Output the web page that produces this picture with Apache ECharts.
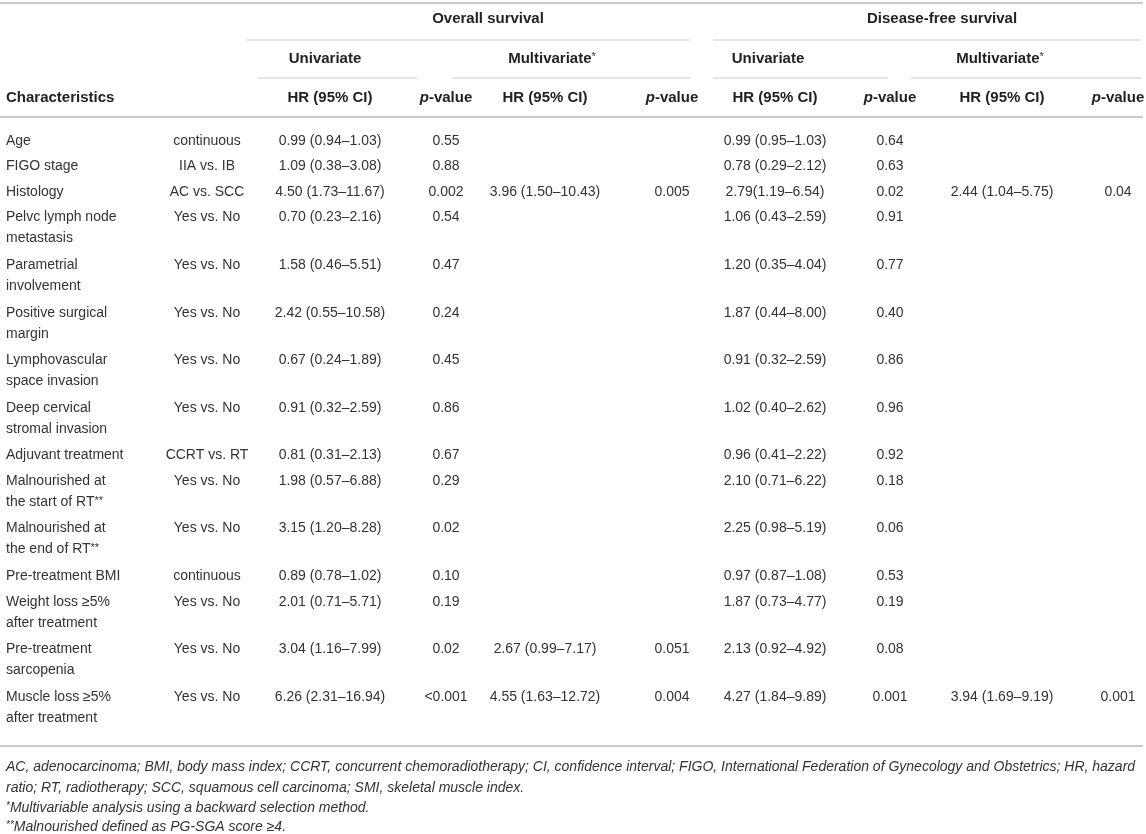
<!DOCTYPE html>
<html>
<head>
<meta charset="utf-8">
<script src="https://cdn.jsdelivr.net/npm/echarts@6/dist/echarts.min.js"></script>
<style>
  html, body { margin: 0; padding: 0; background: #fff; }
  #chart { width: 1146px; height: 834px; }
</style>
</head>
<body>
<div id="chart"></div>
<script>
// table content
const characteristics = [
  ['Age'], ['FIGO stage'], ['Histology'], ['Pelvc lymph node', 'metastasis'],
  ['Parametrial', 'involvement'], ['Positive surgical', 'margin'],
  ['Lymphovascular', 'space invasion'], ['Deep cervical', 'stromal invasion'],
  ['Adjuvant treatment'], ['Malnourished at', 'the start of RT{sup|**}'],
  ['Malnourished at', 'the end of RT{sup|**}'], ['Pre-treatment BMI'],
  ['Weight loss ≥5%', 'after treatment'], ['Pre-treatment', 'sarcopenia'],
  ['Muscle loss ≥5%', 'after treatment']
];
const comparisons = ['continuous', 'IIA vs. IB', 'AC vs. SCC', 'Yes vs. No', 'Yes vs. No',
  'Yes vs. No', 'Yes vs. No', 'Yes vs. No', 'CCRT vs. RT', 'Yes vs. No', 'Yes vs. No',
  'continuous', 'Yes vs. No', 'Yes vs. No', 'Yes vs. No'];
const osUniHR = ['0.99 (0.94–1.03)', '1.09 (0.38–3.08)', '4.50 (1.73–11.67)', '0.70 (0.23–2.16)',
  '1.58 (0.46–5.51)', '2.42 (0.55–10.58)', '0.67 (0.24–1.89)', '0.91 (0.32–2.59)',
  '0.81 (0.31–2.13)', '1.98 (0.57–6.88)', '3.15 (1.20–8.28)', '0.89 (0.78–1.02)',
  '2.01 (0.71–5.71)', '3.04 (1.16–7.99)', '6.26 (2.31–16.94)'];
const osUniP = ['0.55', '0.88', '0.002', '0.54', '0.47', '0.24', '0.45', '0.86', '0.67',
  '0.29', '0.02', '0.10', '0.19', '0.02', '<0.001'];
const osMultiHR = ['', '', '3.96 (1.50–10.43)', '', '', '', '', '', '', '', '', '', '',
  '2.67 (0.99–7.17)', '4.55 (1.63–12.72)'];
const osMultiP = ['', '', '0.005', '', '', '', '', '', '', '', '', '', '', '0.051', '0.004'];
const dfsUniHR = ['0.99 (0.95–1.03)', '0.78 (0.29–2.12)', '2.79(1.19–6.54)', '1.06 (0.43–2.59)',
  '1.20 (0.35–4.04)', '1.87 (0.44–8.00)', '0.91 (0.32–2.59)', '1.02 (0.40–2.62)',
  '0.96 (0.41–2.22)', '2.10 (0.71–6.22)', '2.25 (0.98–5.19)', '0.97 (0.87–1.08)',
  '1.87 (0.73–4.77)', '2.13 (0.92–4.92)', '4.27 (1.84–9.89)'];
const dfsUniP = ['0.64', '0.63', '0.02', '0.91', '0.77', '0.40', '0.86', '0.96', '0.92',
  '0.18', '0.06', '0.53', '0.19', '0.08', '0.001'];
const dfsMultiHR = ['', '', '2.44 (1.04–5.75)', '', '', '', '', '', '', '', '', '', '', '',
  '3.94 (1.69–9.19)'];
const dfsMultiP = ['', '', '0.04', '', '', '', '', '', '', '', '', '', '', '', '0.001'];
const footnotes = [
  'AC, adenocarcinoma; BMI, body mass index; CCRT, concurrent chemoradiotherapy; CI, confidence interval; FIGO, International Federation of Gynecology and Obstetrics; HR, hazard',
  'ratio; RT, radiotherapy; SCC, squamous cell carcinoma; SMI, skeletal muscle index.',
  '{fsup|*}Multivariable analysis using a backward selection method.',
  '{fsup|**}Malnourished defined as PG-SGA score ≥4.'
];

// layout
const FONT = '"Liberation Sans", Arial, Helvetica, sans-serif';
const INK = '#333';
const RULE = '#cbcbcb';
const col = { comp: 207, osUniHR: 330, osUniP: 446, osMultiHR: 545, osMultiP: 672,
  dfsUniHR: 775, dfsUniP: 890, dfsMultiHR: 1002, dfsMultiP: 1118 };
const firstRowY = 141, singlePitch = 25.5, doublePitch = 47.6, lineGap = 21;
const rules = [
  [0, 1143, 3, 2], [246, 690, 40, 1], [713, 1141, 40, 1],
  [258, 417, 78, 1], [452, 690, 78, 1], [713, 888, 78, 1], [911, 1141, 78, 1],
  [0, 1143, 117, 2], [0, 1143, 746, 2]
];

const RICH = {
  sup: { fontSize: 11, fontFamily: FONT, fill: INK, verticalAlign: 'top' },
  bsup: { fontSize: 11, fontFamily: FONT, fill: INK, verticalAlign: 'top' },
  ib: { fontSize: 15, fontFamily: FONT, fontWeight: 'bold', fontStyle: 'italic', fill: '#222' },
  fsup: { fontSize: 10, fontFamily: FONT, fontStyle: 'italic', fill: INK, verticalAlign: 'top' }
};

const cells = [];
function cell(x, y, text, align, extra) {
  cells.push(Object.assign({ x, y, text, align, size: 14, weight: 'normal', italic: 'normal', color: INK }, extra || {}));
}
const head = { size: 15, weight: 'bold', color: '#222' };

cell(488, 19, 'Overall survival', 'center', head);
cell(942, 19, 'Disease-free survival', 'center', head);
cell(325, 59, 'Univariate', 'center', head);
cell(552, 59, 'Multivariate{bsup|*}', 'center', head);
cell(768, 59, 'Univariate', 'center', head);
cell(1000, 59, 'Multivariate{bsup|*}', 'center', head);
cell(6, 98, 'Characteristics', 'left', head);
[col.osUniHR, col.osMultiHR, col.dfsUniHR, col.dfsMultiHR].forEach(x => cell(x, 98, 'HR (95% CI)', 'center', head));
[col.osUniP, col.osMultiP, col.dfsUniP, col.dfsMultiP].forEach(x => cell(x, 98, '{ib|p}-value', 'center', head));

let y = firstRowY;
characteristics.forEach((lines, i) => {
  lines.forEach((t, k) => cell(6, y + k * lineGap, t, 'left'));
  cell(col.comp, y, comparisons[i], 'center');
  cell(col.osUniHR, y, osUniHR[i], 'center');
  cell(col.osUniP, y, osUniP[i], 'center');
  cell(col.osMultiHR, y, osMultiHR[i], 'center');
  cell(col.osMultiP, y, osMultiP[i], 'center');
  cell(col.dfsUniHR, y, dfsUniHR[i], 'center');
  cell(col.dfsUniP, y, dfsUniP[i], 'center');
  cell(col.dfsMultiHR, y, dfsMultiHR[i], 'center');
  cell(col.dfsMultiP, y, dfsMultiP[i], 'center');
  y += lines.length > 1 ? doublePitch : singlePitch;
});

const footY = [767, 788, 808, 827];
footnotes.forEach((t, i) => cell(6, footY[i], t, 'left', { size: 14, italic: 'italic' }));

const chart = echarts.init(document.getElementById('chart'));
chart.setOption({
  animation: false,
  grid: { left: 0, right: 0, top: 0, bottom: 0 },
  xAxis: { type: 'value', min: 0, max: 1146, show: false },
  yAxis: { type: 'value', min: 0, max: 834, inverse: true, show: false },
  series: [
    {
      type: 'custom',
      data: rules,
      renderItem: (params, api) => {
        const a = api.coord([api.value(0), api.value(2)]);
        const b = api.coord([api.value(1), api.value(2)]);
        return {
          type: 'line',
          shape: { x1: a[0], y1: a[1], x2: b[0], y2: b[1] },
          style: { stroke: RULE, lineWidth: api.value(3) }
        };
      }
    },
    {
      type: 'custom',
      data: cells.map(c => [c.x, c.y]),
      renderItem: (params, api) => {
        const c = cells[params.dataIndex];
        const p = api.coord([c.x, c.y]);
        return {
          type: 'text',
          x: p[0],
          y: p[1],
          style: {
            text: c.text,
            fontFamily: FONT,
            fontSize: c.size,
            fontWeight: c.weight,
            fontStyle: c.italic,
            fill: c.color,
            align: c.align,
            verticalAlign: 'middle',
            rich: RICH
          }
        };
      }
    }
  ]
});
</script>
</body>
</html>
